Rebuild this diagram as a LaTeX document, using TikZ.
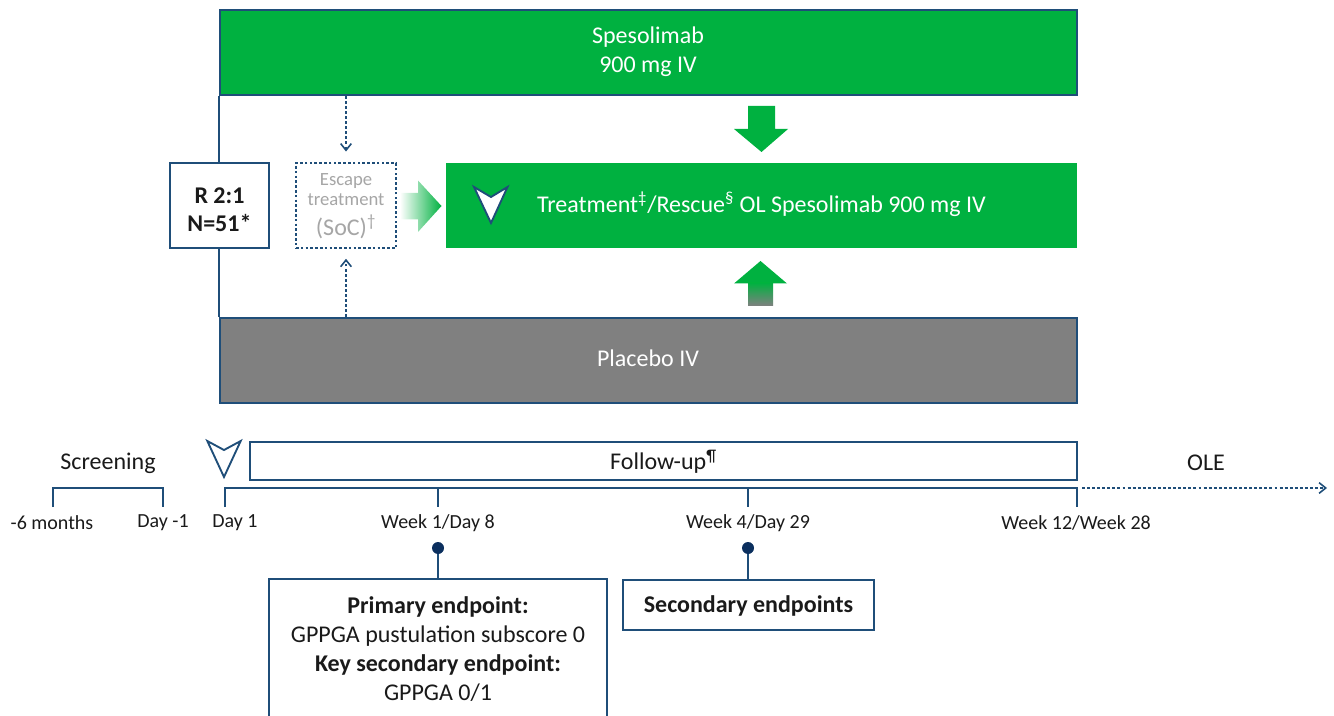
\documentclass[tikz,border=0pt]{standalone}
\usepackage{fontspec}
\setmainfont{Carlito}
\usetikzlibrary{arrows.meta,fit,calc}
\definecolor{sgreen}{HTML}{00B140}
\definecolor{navy}{HTML}{1F4E79}
\definecolor{dotnavy}{HTML}{0B2F5E}
\definecolor{pgray}{HTML}{808080}
\definecolor{esctext}{HTML}{A6A6A6}
\definecolor{txt}{HTML}{1A1A1A}
\newcommand{\sps}[1]{\textsuperscript{\smash{#1}}}
\begin{document}
\begin{tikzpicture}[x=0.75pt,y=-0.75pt,
  box/.style={inner sep=0pt, line width=1.3pt, draw=navy},
  greenbox/.style={box, fill=sgreen},
  graybox/.style={box, fill=pgray},
  whitebox/.style={box, fill=white},
  big/.style={inner sep=0pt, font=\fontsize{18}{22}\selectfont},
  wtxt/.style={big, text=white},
  btxt/.style={big, text=txt},
  bbold/.style={big, text=txt, font=\bfseries\fontsize{18}{22}\selectfont},
  lbl/.style={inner sep=0pt, text=txt, font=\fontsize{15}{18}\selectfont},
  tl/.style={draw=navy, line width=1.3pt},
  dotline/.style={draw=navy, line width=1.2pt, dash pattern=on 2.2pt off 1.6pt,
    -{Straight Barb[length=5pt,width=8pt,line width=1.2pt]}},
  tri/.style={fill=white, draw=navy, line width=1.4pt, line join=miter},
  endot/.style={circle, fill=dotnavy, inner sep=0pt, minimum size=9pt}
]
\useasboundingbox (0,0) rectangle (1334,716);
\clip (0,0) rectangle (1334,716);

% arms
\node[greenbox, fit={(220,10)(1077,95)}] (spes) {};
\node[wtxt] (spes1) at (648,37) {Spesolimab};
\node[wtxt] (spes2) at (648,67) {900 mg IV};
\node[graybox, fit={(220,318)(1077,403)}] (pla) {};
\node[wtxt] (platxt) at (648,358) {Placebo IV};
\draw[tl] (spes.south west) -- (pla.north west);

\node[whitebox, fit={(170,163)(269,248)}] (rand) {};
\node[bbold] (rand1) at (219.5,196) {R 2:1};
\node[bbold] (rand2) at (219.5,223) {N=51*};

\node[box, dash pattern=on 2pt off 1.6pt, line width=1.2pt, fill=white, fit={(296,163)(396,248)}] (esc) {};
\node[inner sep=0pt, text=esctext, font=\fontsize{14}{16}\selectfont] (esc1) at (346,181) {Escape};
\node[inner sep=0pt, text=esctext, font=\fontsize{14}{16}\selectfont] (esc2) at (346,200) {treatment};
\node[inner sep=0pt, text=esctext, font=\fontsize{18}{22}\selectfont] (esc3) at (346,228) {(SoC)\sps{†}};

\draw[dotline, shorten >=8pt] (esc.north |- spes.south) -- (esc.north);
\draw[dotline, shorten >=7.5pt] (esc.south |- pla.north) -- (esc.south);

\node[greenbox, draw=none, fit={(446,163)(1077,248)}] (treat) {};
\node[wtxt] (treattxt) at (761.5,206) {Treatment\sps{‡}/Rescue\sps{§} OL Spesolimab 900 mg IV};

% gradient arrow into treatment
\shade[left color=white, right color=sgreen]
  (400,193) -- (418,193) -- (418,180.5) -- (441.5,206) -- (418,232) -- (418,219.5) -- (400,219.5) -- cycle;
% green down arrow
\fill[sgreen] (748,106) -- (775,106) -- (775,129) -- (788,129) -- (761.5,152) -- (734,129) -- (748,129) -- cycle;
% up arrow green to gray
\fill[sgreen] (734,283.5) -- (760.5,261) -- (787,283.5) -- cycle;
\shade[top color=sgreen, bottom color=pgray] (748,283) rectangle (773,306);

% triangle in treatment box
\draw[tri] (474,187) -- (491,197) -- (507.5,187) -- (491,223) -- cycle;

% timeline
\node[btxt] (scr) at (108,463) {Screening};
\coordinate (sA) at (53,507);
\coordinate (sB) at (163,507);
\draw[tl] (sA) -- ($(sA)+(0,-19)$) -| (sB);

\draw[tri] (207.3,441) -- (224,450) -- (240.7,441) -- (224,477) -- cycle;

\node[whitebox, fit={(250,442)(1077,480)}] (fu) {};
\node[btxt] (futxt) at (663.5,463) {Follow-up\sps{¶}};
\node[btxt] (ole) at (1206,463) {OLE};

\coordinate (t0) at (225,488);
\coordinate (t1) at (438,488);
\coordinate (t2) at (748,488);
\coordinate (t3) at (1077,488);
\coordinate (oleend) at (1327,488);
\draw[tl] ($(t0)+(0,19)$) -- (t0) -- (t3) -- ($(t3)+(0,19)$);
\draw[tl] (t1) -- ++(0,19);
\draw[tl] (t2) -- ++(0,19);
\draw[dotline] ($(t3)+(5,0)$) -- (oleend);

\node[lbl] (l6m) at (52,523) {-6 months};
\node[lbl] (ldm1) at (163,523) {Day -1};
\node[lbl] (ld1) at (235,523) {Day 1};
\node[lbl] (lw1) at (438,523) {Week 1/Day 8};
\node[lbl] (lw4) at (748,523) {Week 4/Day 29};
\node[lbl] (lw12) at (1076,523) {Week 12/Week 28};

\node[endot] (d1) at (438,548) {};
\node[endot] (d2) at (748,548) {};

\node[whitebox, fit={(269,579)(607,722)}] (prim) {};
\node[bbold] (prim1) at (438,607) {Primary endpoint:};
\node[btxt] (prim2) at (438,636) {GPPGA pustulation subscore 0};
\node[bbold] (prim3) at (438,665) {Key secondary endpoint:};
\node[btxt] (prim4) at (438,693) {GPPGA 0/1};

\node[whitebox, fit={(623,580)(874,630)}] (sec) {};
\node[bbold] (sectxt) at (748.5,606) {Secondary endpoints};

\draw[tl] (d1) -- (d1 |- prim.north);
\draw[tl] (d2) -- (d2 |- sec.north);
\end{tikzpicture}
\end{document}
